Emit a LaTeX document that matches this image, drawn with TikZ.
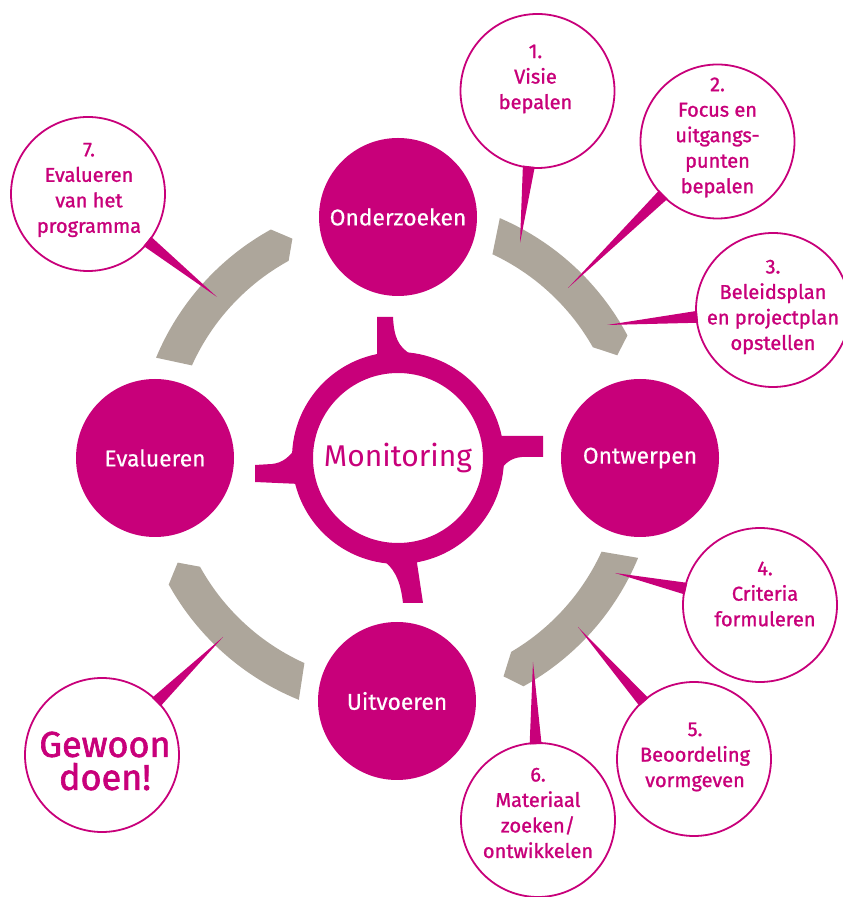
\documentclass[tikz,border=0pt]{standalone}
\usepackage{fontspec}
\setmainfont{Fira Sans}
\newfontfamily\calloutfont[FakeBold=1.2]{Fira Sans}
\newfontfamily\gewoonfont[FakeBold=1.8]{Fira Sans}
\newfontfamily\labelfont[FakeBold=0.5]{Fira Sans}
\usetikzlibrary{calc}
\definecolor{mag}{RGB}{200,0,122}
\definecolor{gry}{RGB}{173,166,155}
\begin{document}
\begin{tikzpicture}[x=1pt,y=1pt,
  big/.style={circle, fill=mag, minimum size=158pt, inner sep=0pt, text=white, font=\labelfont\fontsize{22.8}{26}\selectfont},
  ringnode/.style={circle, draw=mag, line width=21pt, minimum size=191pt, inner sep=0pt, text=mag, font=\fontsize{30}{34}\selectfont},
  callout/.style={circle, draw=mag, line width=1.8pt, fill=white, minimum size=154pt, inner sep=0pt},
  ctext/.style={text=mag, align=center, font=\calloutfont\fontsize{20}{25.5}\selectfont, inner sep=0pt},
  arcseg/.style={fill=gry},
  ptr/.style={fill=mag},
  stemshape/.style={fill=mag}]
\useasboundingbox (0,0) rectangle (843,897);
\coordinate (C) at (397,439);
% grey arc segments
\fill[arcseg] ([shift={(C)}]157.4:261) arc[start angle=157.4,end angle=118.9,radius=261] -- ([shift={(C)}]115.5:243) -- ([shift={(C)}]118.8:225) arc[start angle=118.8,end angle=155.7,radius=225] -- cycle;
\fill[arcseg] ([shift={(C)}]66.8:261) arc[start angle=66.8,end angle=28,radius=261] -- ([shift={(C)}]25:243) -- ([shift={(C)}]29.5:225) arc[start angle=29.5,end angle=64.9,radius=225] -- cycle;
\fill[arcseg] ([shift={(C)}]-22.5:261) arc[start angle=-22.5,end angle=-61,radius=261] -- ([shift={(C)}]-64:243) -- ([shift={(C)}]-59.5:225) arc[start angle=-59.5,end angle=-24.6,radius=225] -- cycle;
\fill[arcseg] ([shift={(C)}]247.9:261) arc[start angle=247.9,end angle=209,radius=261] -- ([shift={(C)}]205.5:243) -- ([shift={(C)}]208.9:225) arc[start angle=208.9,end angle=245.7,radius=225] -- cycle;
% pointer tips
\coordinate (p1) at (520,654);
\coordinate (p2) at (568,609);
\coordinate (p3) at (607,572);
\coordinate (p4) at (615,324);
\coordinate (p5) at (578,270);
\coordinate (p6) at (533,235);
\coordinate (p7) at (217,600);
\coordinate (pg) at (223,260);
% callout circles
\node[callout] (c1) at (537.5,806) {};
\node[callout] (c2) at (717.5,755.5) {};
\node[callout] (c3) at (773,587) {};
\node[callout] (c4) at (760,292) {};
\node[callout] (c5) at (694,138) {};
\node[callout] (c6) at (538,77) {};
\node[callout] (c7) at (88,703) {};
\node[callout] (cg) at (102,142) {};
% pointers
\foreach \c/\p in {c1/p1,c2/p2,c3/p3,c4/p4,c5/p5,c6/p6,c7/p7,cg/pg}{
  \fill[ptr] ($(\c.center)!76pt!4.5:(\p)$) -- (\p) -- ($(\c.center)!76pt!-4.5:(\p)$) -- cycle;
}
% callout texts
\node[ctext] (t1) at ($(c1)+(-2,12)$) {1.\\Visie\\bepalen};
\node[ctext] (t2) at ($(c2)+(0,4)$) {2.\\Focus en\\uitgangs-\\punten\\bepalen};
\node[ctext] (t3) at ($(c3)+(0,3)$) {3.\\Beleidsplan\\en projectplan\\opstellen};
\node[ctext] (t4) at ($(c4)+(5,11)$) {4.\\Criteria\\formuleren};
\node[ctext] (t5) at ($(c5)+(1,2)$) {5.\\Beoordeling\\vormgeven};
\node[ctext] (t6) at ($(c6)+(0,7)$) {6.\\Materiaal\\zoeken/\\ontwikkelen};
\node[ctext] (t7) at ($(c7)+(1,4)$) {7.\\Evalueren\\van het\\programma};
\node[ctext, font=\gewoonfont\fontsize{36}{33}\selectfont] (tg) at ($(cg)+(3,-6)$) {Gewoon\\doen!};
% main phase circles
\node[big] (on) at (398,680) {Onderzoeken};
\node[big] (ow) at (640,439) {Ontwerpen};
\node[big] (ui) at (397,196) {Uitvoeren};
\node[big] (ev) at (155,439) {Evalueren};
% monitoring ring
\node[ringnode] (mo) at (398,439) {Monitoring};
% stems of the ring
\fill[stemshape] (377,535) -- (377,580) -- (393,580) .. controls (394,560) and (398,550) .. (412,542) -- (398,530) -- cycle;
\fill[stemshape] (495,461) -- (543,461) -- (543,440) -- (522,440) .. controls (510,439) and (504,433) .. (499,424) -- (493,435) -- cycle;
\fill[stemshape] (420,345) -- (417,334) -- (423,294) -- (403,294) .. controls (401,310) and (398,325) .. (384,336) -- (395,348) -- cycle;
\fill[stemshape] (300,413) -- (255,415) -- (255,432) -- (272,433) .. controls (282,434) and (290,440) .. (296,450) -- (305,440) -- cycle;
\end{tikzpicture}
\end{document}
